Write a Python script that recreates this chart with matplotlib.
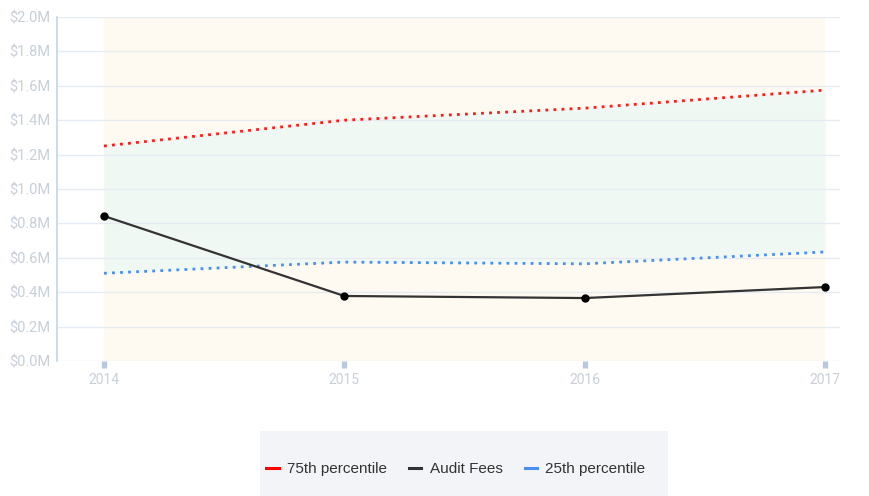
import matplotlib
matplotlib.use("Agg")
import matplotlib.pyplot as plt
from matplotlib.lines import Line2D
from matplotlib.patches import Rectangle

years = [2014, 2015, 2016, 2017]
p75 = [1.25, 1.40, 1.47, 1.575]
audit_fees = [0.843, 0.378, 0.366, 0.430]
p25 = [0.51, 0.575, 0.565, 0.634]
y_ticks = [0.0, 0.2, 0.4, 0.6, 0.8, 1.0, 1.2, 1.4, 1.6, 1.8, 2.0]
series_names = ["75th percentile", "Audit Fees", "25th percentile"]

plt.rcParams['font.family'] = ['Roboto', 'DejaVu Sans']

fig = plt.figure(figsize=(8.69, 4.96), dpi=100)
ax = fig.add_axes([57/869, 1-361/496, (840-57)/869, (361-17)/496])

ax.set_xlim(2014 - 47/240.3, 2017 + 15/240.3)
ax.set_ylim(0, 2.0)

# background band
ax.axvspan(years[0], years[-1], color='#fffaf1', zorder=0, lw=0)
ax.fill_between(years, p25, p75, color='#f0f8f3', zorder=1, lw=0)

for y in y_ticks:
    ax.axhline(y, color='#e6ebf2', lw=1, zorder=2)

ax.plot(years, p75, color='#ff1a1a', lw=2, linestyle=(0, (1, 1.9)), zorder=4)
ax.plot(years, p25, color='#4a8ef0', lw=2, linestyle=(0, (1, 1.9)), zorder=4)
ax.plot(years, audit_fees, color='#333333', lw=1.6, marker='o', markersize=5,
        markerfacecolor='black', markeredgecolor='black', zorder=5)

ax.set_yticks(y_ticks)
ax.set_yticklabels([f"${v:.1f}M" for v in y_ticks])
ax.set_xticks(years)
ax.set_xticklabels([str(y) for y in years])

for s in ['top', 'right', 'bottom']:
    ax.spines[s].set_visible(False)
ax.spines['left'].set_color('#c5d4e8')
ax.spines['left'].set_linewidth(1.2)

ax.tick_params(axis='y', length=0, labelsize=10.5, labelcolor='#c8cfd9', pad=5)
ax.tick_params(axis='x', length=5, width=3.8, color='#b9c8dc', labelsize=10,
               labelcolor='#c8cfd9', pad=4, direction='out')

# legend box
fig.patches.append(Rectangle((260/869, 0), (668-260)/869, (496-431)/496,
                             transform=fig.transFigure, facecolor='#f2f4f7',
                             edgecolor='none', zorder=0))
handles = [Line2D([], [], color=c, lw=2.2) for c in ['#ff0000', '#333333', '#4a8ef0']]
fig.legend(handles, series_names, loc='center', bbox_to_anchor=(456/869, 1-469/496),
           ncol=3, frameon=False, handlelength=0.8, handletextpad=0.55,
           columnspacing=1.45, labelcolor='#333333',
           prop={'family': ['Liberation Sans', 'DejaVu Sans'], 'size': 11})

fig.savefig('out.png', dpi=100)
